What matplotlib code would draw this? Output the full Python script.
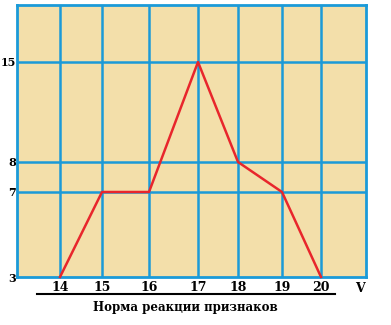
import numpy as np
import matplotlib
matplotlib.use('Agg')
import matplotlib.pyplot as plt
from matplotlib.lines import Line2D

# data
x_vals = [14, 15, 16, 17, 18, 19, 20]
y_vals = [3, 7, 7, 15, 8, 7, 3]
y_ticks = [3, 7, 8, 15]
x_label = "Норма реакции признаков"

# uneven spacing of the original drawing (value -> pixel offset)
xp = [13, 14, 15, 16, 17, 18, 19, 20, 21]
xq = [0, 43, 85, 132, 181, 221, 265, 304, 349]
yp = [3, 7, 8, 15, 19]
yq = [0, 85, 115, 215, 272]

grid_c = '#1b9ad8'
bg_c = '#f3dfaa'
red_c = '#e8262c'
font = dict(family='DejaVu Serif', weight='bold', size=9)
yfont = dict(family='DejaVu Serif', weight='bold', size=8)

fig = plt.figure(figsize=(3.91, 3.25), dpi=100)
ax = fig.add_axes([17/391, 48/325, 349/391, 272/325])
ax.set_facecolor(bg_c)
ax.set_xscale('function', functions=(lambda v: np.interp(v, xp, xq), lambda v: np.interp(v, xq, xp)))
ax.set_yscale('function', functions=(lambda v: np.interp(v, yp, yq), lambda v: np.interp(v, yq, yp)))
ax.set_xlim(13, 21)
ax.set_ylim(3, 19)

for xv in x_vals:
    ax.axvline(xv, color=grid_c, lw=1.8, zorder=1)
for yv in y_ticks[1:]:
    ax.axhline(yv, color=grid_c, lw=1.8, zorder=1)
for s in ax.spines.values():
    s.set_color(grid_c)
    s.set_linewidth(2)

ax.plot(x_vals, y_vals, color=red_c, lw=1.8, zorder=3, clip_on=False)

ax.set_xticks(x_vals)
ax.set_xticklabels([str(v) for v in x_vals], fontdict=font)
ax.set_yticks(y_ticks)
ax.set_yticklabels([str(v) for v in y_ticks], fontdict=yfont)
ax.xaxis.set_minor_locator(plt.NullLocator())
ax.yaxis.set_minor_locator(plt.NullLocator())
ax.tick_params(axis='x', length=0, pad=3)
ax.tick_params(axis='y', length=0, pad=0.5)
ax.text(20.86, -0.02, 'V', transform=ax.get_xaxis_transform(), ha='center', va='top', **font)

fig.add_artist(Line2D([37/391, 335/391], [1 - 294/325, 1 - 294/325], color='black', lw=1.5,
                      transform=fig.transFigure))
fig.text(185/391, 1 - 308/325, x_label, ha='center', va='center',
         family='DejaVu Serif', weight='bold', size=8.5)

fig.savefig('out.png', dpi=100)
